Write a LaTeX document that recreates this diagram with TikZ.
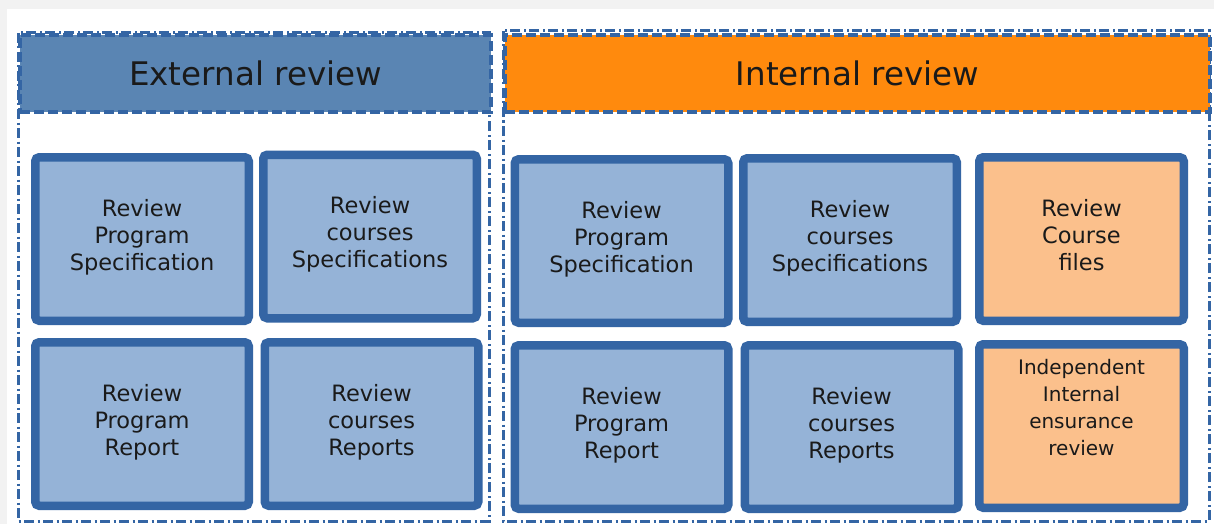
\documentclass[tikz,border=0pt]{standalone}
\usepackage{fontspec}
\setmainfont{DejaVu Sans}
\definecolor{pagegrey}{HTML}{F2F2F2}
\definecolor{lineblue}{HTML}{3465A4}
\definecolor{headblue}{HTML}{5A85B3}
\definecolor{boxblue}{HTML}{95B3D7}
\definecolor{headorange}{HTML}{FF8A0D}
\definecolor{boxorange}{HTML}{FBC08C}
\definecolor{textdark}{HTML}{1A1A1A}
\newcommand{\boxlines}[2][1pt]{\raisebox{#1}[\height][\depth]{\begin{tabular}{@{}c@{}}#2\end{tabular}}}
\tikzset{
  groupframe/.style={draw=lineblue, line width=3pt, dash pattern=on 10pt off 3.5pt on 2pt off 3.5pt},
  headbox/.style={draw=lineblue, line width=4pt, dash pattern=on 10pt off 4pt, text=textdark,
    font=\fontsize{32.5}{38}\selectfont, inner sep=0pt},
  itembox/.style={draw=lineblue, line width=8.5pt, rounded corners=4pt, fill=boxblue,
    minimum width=213.5pt, minimum height=163.5pt, inner sep=0pt, align=center, text=textdark,
    font=\fontsize{22.5}{27}\selectfont},
  orangebox/.style={itembox, fill=boxorange, minimum width=204.5pt}
}
\begin{document}
\begin{tikzpicture}[x=1pt,y=-1pt]
\useasboundingbox (0,0) rectangle (1214,524);
\fill[pagegrey] (0,0) rectangle (1214,524);
\fill[white] (7,9) rectangle (1214,524);
% group frames
\draw[groupframe] (18,33) rectangle (489,521);
\draw[groupframe] (503,31) rectangle (1209,521);
% headers
\node[headbox, fill=headblue, minimum width=471pt, minimum height=77pt, anchor=north west] (exthead) at (18,33) {External review};
\node[headbox, fill=headorange, minimum width=705pt, minimum height=77pt, anchor=north west] (inthead) at (503,33) {Internal review};
% external boxes
\node[itembox] (e1) at (142,239) {\boxlines{Review\\Program\\Specification}};
\node[itembox] (e2) at (370,236.5) {\boxlines{Review\\courses\\Specifications}};
\node[itembox] (e3) at (142,424) {\boxlines{Review\\Program\\Report}};
\node[itembox] (e4) at (371.5,424) {\boxlines{Review\\courses\\Reports}};
% internal boxes
\node[itembox] (i1) at (621.5,241) {\boxlines{Review\\Program\\Specification}};
\node[itembox] (i2) at (850,240) {\boxlines{Review\\courses\\Specifications}};
\node[orangebox] (i3) at (1081.5,239) {\boxlines{Review\\Course\\files}};
\node[itembox] (i4) at (621.5,427) {\boxlines{Review\\Program\\Report}};
\node[itembox] (i5) at (851.5,427) {\boxlines{Review\\courses\\Reports}};
\node[orangebox, font=\fontsize{20}{27}\selectfont] (i6) at (1081.5,426) {\boxlines[16pt]{Independent\\Internal\\ensurance\\review}};
\end{tikzpicture}
\end{document}
